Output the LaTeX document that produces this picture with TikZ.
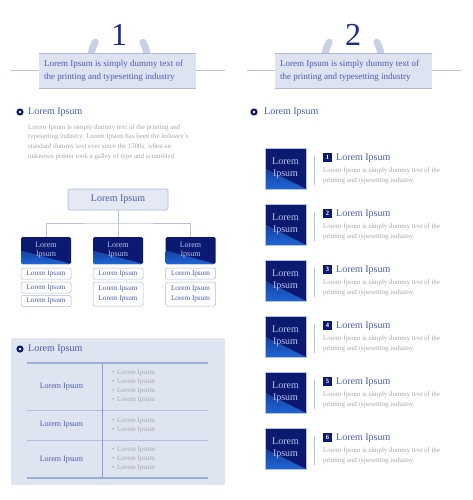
\documentclass[tikz,border=0pt]{standalone}
\usepackage{fontspec}
\setmainfont{Liberation Serif}
\usetikzlibrary{calc}
\definecolor{navy}{HTML}{0B1A70}
\definecolor{numblue}{HTML}{1B2C8C}
\definecolor{txtblue}{HTML}{4A5BB0}
\definecolor{lineblue}{HTML}{B7C2E3}
\definecolor{boxfill}{HTML}{DEE3F1}
\definecolor{boxedge}{HTML}{ADB8DC}
\definecolor{greytxt}{HTML}{A6A7B0}
\definecolor{arcgrey}{HTML}{C9CFE4}
\definecolor{brightblue}{HTML}{1F66D4}
\definecolor{lighttxt}{HTML}{B9C4EE}
\definecolor{tabfill}{HTML}{DFE4F1}
\definecolor{tabline}{HTML}{9DAED8}
\tikzset{
  fs/.style={font=\fontsize{#1}{#1}\selectfont},
  numtxt/.style={fs=32, text=numblue, inner sep=0pt},
  hdrtxt/.style={font=\fontsize{9}{13}\selectfont, text=txtblue, align=left, inner sep=0pt, anchor=north west},
  headtxt/.style={fs=10, text=txtblue, inner sep=0pt, anchor=west},
  partxt/.style={font=\fontsize{6.9}{9.7}\selectfont, text=greytxt, align=left, inner sep=0pt, anchor=north west},
  darkgrad/.style={fill=navy, path picture={
      \shade[top color=navy, bottom color=brightblue]
        (path picture bounding box.south west) -- (path picture bounding box.south east)
        -- ($(path picture bounding box.south west)!0.5!(path picture bounding box.north west)$) -- cycle;}},
  darkbox/.style={darkgrad, minimum width=50pt, minimum height=27pt, inner sep=0pt,
      rounded corners=1.5pt, text=lighttxt, align=center, font=\fontsize{8}{9}\selectfont},
  sqbox/.style={darkgrad, minimum width=41pt, minimum height=41pt, inner sep=0pt,
      text=lighttxt, align=center, font=\fontsize{10}{12}\selectfont, draw=lineblue, line width=0.4pt},
  smallbox/.style={draw=boxedge, line width=0.5pt, rounded corners=1.5pt, fill=white,
      minimum width=50pt, inner sep=0pt, text=txtblue, align=center, font=\fontsize{7.2}{10.5}\selectfont},
  orgtop/.style={draw=boxedge, fill=boxfill!80!white, line width=0.6pt, rounded corners=2pt,
      minimum width=100pt, minimum height=21pt, text=txtblue, fs=10},
  conn/.style={draw=lineblue, line width=0.8pt},
  badge/.style={fill=navy, minimum size=9pt, inner sep=0pt, text=white, font=\fontsize{6.5}{7}\selectfont\bfseries},
  tabtxt/.style={fs=8, text=txtblue, inner sep=0pt},
  bultxt/.style={font=\fontsize{7}{9.2}\selectfont, text=greytxt, align=left, inner sep=0pt, anchor=west},
  arcstyle/.style={arcgrey, line width=7pt, line cap=round},
}
\newcommand{\mybullet}[2]{%
  \fill[navy] (#1,#2) circle (3.6pt);
  \fill[white] (#1,#2) circle (1.3pt);}
\begin{document}
\begin{tikzpicture}[x=1pt,y=-1pt]
\useasboundingbox (0,0) rectangle (472,500);
\fill[white] (0,0) rectangle (472,500);

% ===== Header 1 =====
\draw[arcstyle] ($(119,57)+(-23.7,-14.8)$) arc[start angle=148, end angle=392, radius=28pt];
\node[numtxt] (n1) at (119,35) {1};
\draw[lineblue, line width=0.8pt] (11,70.5) -- (225,70.5);
\fill[boxfill] (39,53) rectangle (196,88);
\draw[boxedge, line width=0.6pt] (39,53) -- (196,53) (39,88) -- (196,88);
\node[hdrtxt] (h1) at (44,60) {Lorem Ipsum is simply dummy text of\\the printing and typesetting industry};

% ===== Header 2 =====
\draw[arcstyle] ($(353,57)+(-23.7,-14.8)$) arc[start angle=148, end angle=392, radius=28pt];
\node[numtxt] (n2) at (353,35) {2};
\draw[lineblue, line width=0.8pt] (247,70.5) -- (461,70.5);
\fill[boxfill] (275,53) rectangle (432,88);
\draw[boxedge, line width=0.6pt] (275,53) -- (432,53) (275,88) -- (432,88);
\node[hdrtxt] (h2) at (280,60) {Lorem Ipsum is simply dummy text of\\the printing and typesetting industry};

% ===== Left heading and paragraph =====
\mybullet{20}{112}
\node[headtxt] (lh) at (28,112.5) {Lorem Ipsum};
\node[partxt] (lp) at (28,124) {Lorem Ipsum is simply dummy text of the printing and\\typesetting industry. Lorem Ipsum has been the industry's\\standard dummy text ever since the 1500s, when an\\unknown printer took a galley of type and scrambled};

% ===== Org chart =====
\node[orgtop] (top) at (118,199.5) {Lorem Ipsum};
\node[darkbox] (d1) at (46,250.5) {Lorem\\Ipsum};
\node[darkbox] (d2) at (118,250.5) {Lorem\\Ipsum};
\node[darkbox] (d3) at (190.5,250.5) {Lorem\\Ipsum};
\coordinate (j) at (118,223);
\draw[conn] (top.south) -- (j);
\draw[conn] (d1.north) |- (j) -| (d3.north);
\draw[conn] (j) -- (d2.north);
\node[smallbox, minimum height=11pt] (s11) at (46,273.5) {Lorem Ipsum};
\node[smallbox, minimum height=11pt] (s12) at (46,287.5) {Lorem Ipsum};
\node[smallbox, minimum height=11pt] (s13) at (46,301) {Lorem Ipsum};
\node[smallbox, minimum height=11pt] (s21) at (118,273.5) {Lorem Ipsum};
\node[smallbox, minimum height=24pt] (s22) at (118,294) {Lorem Ipsum\\Lorem Ipsum};
\node[smallbox, minimum height=11pt] (s31) at (190.5,273.5) {Lorem Ipsum};
\node[smallbox, minimum height=24pt] (s32) at (190.5,294) {Lorem Ipsum\\Lorem Ipsum};

% ===== Table panel =====
\fill[tabfill, rounded corners=2pt] (11,338) rectangle (225,485);
\mybullet{20}{349}
\node[headtxt] (th) at (28,349.5) {Lorem Ipsum};
\draw[tabline, line width=1.2pt] (27,363) -- (208,363);
\draw[tabline!80!white, line width=0.6pt] (27,410) -- (208,410) (27,440) -- (208,440);
\draw[tabline, line width=1.2pt] (27,478) -- (208,478);
\draw[tabline!90!navy, line width=0.7pt] (102,363) -- (102,478);
\node[tabtxt] (t1) at (61.5,387) {Lorem Ipsum};
\node[tabtxt] (t2) at (61.5,425) {Lorem Ipsum};
\node[tabtxt] (t3) at (61.5,460) {Lorem Ipsum};
\node[bultxt] (b1) at (112,386.5) {\textbullet\hspace{2.5pt}Lorem Ipsum\\\textbullet\hspace{2.5pt}Lorem Ipsum\\\textbullet\hspace{2.5pt}Lorem Ipsum\\\textbullet\hspace{2.5pt}Lorem Ipsum};
\node[bultxt] (b2) at (112,425.5) {\textbullet\hspace{2.5pt}Lorem Ipsum\\\textbullet\hspace{2.5pt}Lorem Ipsum};
\node[bultxt] (b3) at (112,459) {\textbullet\hspace{2.5pt}Lorem Ipsum\\\textbullet\hspace{2.5pt}Lorem Ipsum\\\textbullet\hspace{2.5pt}Lorem Ipsum};

% ===== Right list =====
\mybullet{254}{112}
\node[headtxt] (rh) at (264,112.5) {Lorem Ipsum};
\foreach \T/\k in {148/1,204/2,260/3,316/4,372/5,428/6}{
  \node[sqbox] (q\k) at (285.5,\T+20.5) {Lorem\\Ipsum};
  \draw[lineblue, line width=0.8pt] (314,\T+8) -- (314,\T+37);
  \node[badge] (bd\k) at (327.5,\T+9.5) {\k};
  \node[headtxt] (rt\k) at (336,\T+10) {Lorem Ipsum};
  \node[partxt] (rd\k) at (323,\T+19.5) {Lorem Ipsum is simply dummy text of the\\printing and typesetting industry.};
}
\end{tikzpicture}
\end{document}
